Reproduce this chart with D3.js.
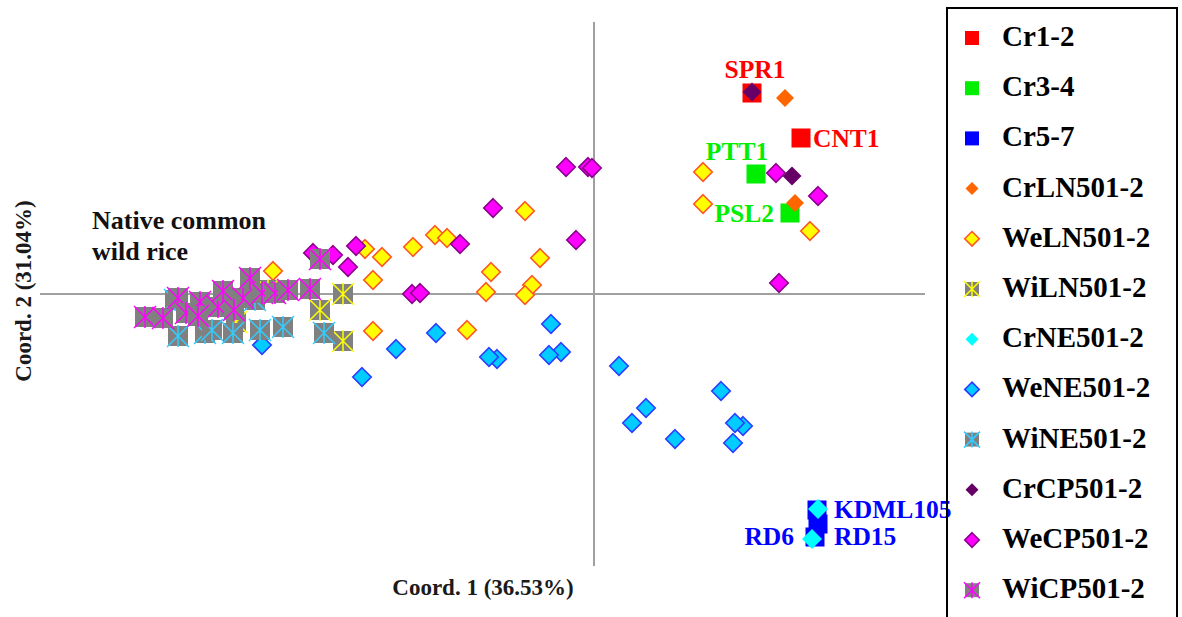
<!DOCTYPE html>
<html>
<head>
<meta charset="utf-8">
<script src="https://cdn.jsdelivr.net/npm/d3@7"></script>
<style>
  body { margin: 0; background: #fff; }
  svg { display: block; }
  text { font-family: "Liberation Serif", "Times New Roman", serif; font-weight: bold; }
</style>
</head>
<body>
<svg id="chart" width="1182" height="617"></svg>
<script>
// PCoA coordinates [Coord. 1, Coord. 2] for each accession group
const groupNames = ["Cr1-2", "Cr3-4", "Cr5-7", "CrLN501-2", "WeLN501-2", "WiLN501-2",
                    "CrNE501-2", "WeNE501-2", "WiNE501-2", "CrCP501-2", "WeCP501-2", "WiCP501-2"];

const cr12 = [[0.395, 0.5025], [0.5175, 0.39]];
const cr34 = [[0.405, 0.30], [0.49, 0.2025]];
const cr57 = [[0.56, -0.575], [0.5575, -0.54], [0.5525, -0.6075]];
const crLN = [[0.4775, 0.49], [0.5025, 0.2275]];
const weLN = [[0.2725, 0.305], [0.2725, 0.225], [0.54, 0.1575], [-0.1725, 0.2075], [-0.3975, 0.1475],
              [-0.3675, 0.14], [-0.4525, 0.1175], [-0.53, 0.0925], [-0.5725, 0.1125], [-0.5525, 0.035],
              [-0.135, 0.09], [-0.2575, 0.055], [-0.155, 0.0225], [-0.27, 0.005], [-0.1725, -0.0025],
              [-0.8025, 0.0575], [-0.5525, -0.0925], [-0.3175, -0.09]];
const wiLN = [[-0.6275, 0.0], [-0.685, -0.04], [-0.6275, -0.1175], [-0.815, 0.01], [-0.895, -0.07]];
const crNE = [[0.56, -0.5375], [0.545, -0.6125]];
const weNE = [[-0.58, -0.2075], [-0.495, -0.1375], [-0.395, -0.0975], [-0.2425, -0.1625], [-0.2625, -0.1575],
              [-0.0825, -0.145], [-0.1075, -0.075], [-0.1125, -0.1525], [0.0625, -0.18], [0.13, -0.285],
              [0.095, -0.3225], [0.2025, -0.3625], [0.3175, -0.2425], [0.3725, -0.33], [0.3525, -0.3225],
              [0.3475, -0.3725], [-0.83, -0.1275]];
const wiNE = [[-1.0475, -0.015], [-0.8475, -0.015], [-1.04, -0.105], [-0.9725, -0.0975], [-0.955, -0.09],
              [-0.9025, -0.0975], [-0.835, -0.09], [-0.7775, -0.0825], [-0.675, -0.0975]];
const crCP = [[0.395, 0.505], [0.495, 0.295]];
const weCP = [[-0.07, 0.3175], [-0.015, 0.3175], [-0.005, 0.315], [-0.2525, 0.215], [-0.045, 0.135],
              [-0.595, 0.12], [-0.335, 0.125], [-0.615, 0.0675], [-0.455, 0.0], [-0.435, 0.0025],
              [-0.7025, 0.1025], [-0.6525, 0.0975], [0.455, 0.3025], [0.56, 0.245], [0.4625, 0.0275]];
const wiCP = [[-1.1225, -0.0575], [-1.0775, -0.06], [-1.04, -0.01], [-1.02, -0.0475], [-0.985, -0.02],
              [-0.94, -0.0325], [-0.9275, 0.0075], [-0.8775, -0.01], [-0.86, 0.04], [-0.83, 0.0025],
              [-0.7975, 0.0025], [-0.765, 0.01], [-0.71, 0.0125], [-0.685, 0.0875],
              [-0.99, -0.055], [-0.9, -0.04]];

// Named cultivars
const cultivarNames = ["SPR1", "CNT1", "PTT1", "PSL2", "KDML105", "RD15", "RD6"];

const axisTitles = ["Coord. 1 (36.53%)", "Coord. 2 (31.04%)"];
const noteLines = ["Native common", "wild rice"];

// Marker styles per group (drawn in legend order)
const groups = [
  { name: groupNames[0],  pts: cr12, shape: "square",  fill: "#ff0000", size: 19, lsize: 14 },
  { name: groupNames[1],  pts: cr34, shape: "square",  fill: "#00ee00", size: 19, lsize: 14 },
  { name: groupNames[2],  pts: cr57, shape: "square",  fill: "#0000ff", size: 19, lsize: 14 },
  { name: groupNames[3],  pts: crLN, shape: "diamond", fill: "#ff6600", size: 18, lsize: 13 },
  { name: groupNames[4],  pts: weLN, shape: "diamond", fill: "#ffff00", stroke: "#ff5522", size: 20, lsize: 16 },
  { name: groupNames[5],  pts: wiLN, shape: "star",    fill: "#808080", stroke: "#ffff00", size: 20, lsize: 14 },
  { name: groupNames[6],  pts: crNE, shape: "diamond", fill: "#00ffff", size: 20, lsize: 13 },
  { name: groupNames[7],  pts: weNE, shape: "diamond", fill: "#00ccff", stroke: "#2a3cff", size: 20, lsize: 16 },
  { name: groupNames[8],  pts: wiNE, shape: "star",    fill: "#808080", stroke: "#33ccff", size: 20, lsize: 14 },
  { name: groupNames[9],  pts: crCP, shape: "diamond", fill: "#660066", size: 19, lsize: 13 },
  { name: groupNames[10], pts: weCP, shape: "diamond", fill: "#ff00ff", stroke: "#8a008a", size: 20, lsize: 16 },
  { name: groupNames[11], pts: wiCP, shape: "star",    fill: "#808080", stroke: "#ff00ff", size: 20, lsize: 14 }
];

// Cultivar labels: which point they name and how they sit next to it
const labelSpecs = [
  { text: cultivarNames[0], g: 0, i: 0, dx: 3,   dy: -15, anchor: "middle", color: "#ff0000" },
  { text: cultivarNames[1], g: 0, i: 1, dx: 12,  dy: 9,   anchor: "start",  color: "#ff0000" },
  { text: cultivarNames[2], g: 1, i: 0, dx: -19, dy: -14, anchor: "middle", color: "#00ee00" },
  { text: cultivarNames[3], g: 1, i: 1, dx: -16, dy: 9,   anchor: "end",    color: "#00ee00" },
  { text: cultivarNames[4], g: 2, i: 1, dx: 17,  dy: 8,   anchor: "start",  color: "#0000ff" },
  { text: cultivarNames[5], g: 2, i: 0, dx: 16,  dy: 21,  anchor: "start",  color: "#0000ff" },
  { text: cultivarNames[6], g: 2, i: 2, dx: -21, dy: 8,   anchor: "end",    color: "#0000ff" }
];

const svg = d3.select("#chart");
svg.append("rect").attr("width", 1182).attr("height", 617).attr("fill", "#fff");

const x = d3.scaleLinear().domain([-1.4, 0.85]).range([34, 934]);
const y = d3.scaleLinear().domain([-0.68, 0.68]).range([566, 22]);

// Cross-hair axes through the origin
svg.append("line")
  .attr("x1", x(-1.385)).attr("x2", x(0.8275))
  .attr("y1", y(0)).attr("y2", y(0))
  .attr("stroke", "#a0a0a0").attr("stroke-width", 2);
svg.append("line")
  .attr("x1", x(0)).attr("x2", x(0))
  .attr("y1", y(0.68)).attr("y2", y(-0.68))
  .attr("stroke", "#a0a0a0").attr("stroke-width", 2);

function drawMarker(sel, g, s) {
  const h = s / 2;
  if (g.shape === "square") {
    sel.append("rect").attr("x", -h).attr("y", -h).attr("width", s).attr("height", s)
      .attr("fill", g.fill);
  } else if (g.shape === "diamond") {
    const r = g.stroke ? h - 0.75 : h;
    sel.append("path").attr("d", `M0,${-r}L${r},0L0,${r}L${-r},0Z`)
      .attr("fill", g.fill)
      .attr("stroke", g.stroke || "none")
      .attr("stroke-width", 1.6)
      .attr("stroke-linejoin", "miter");
  } else {
    sel.append("rect").attr("x", -h).attr("y", -h).attr("width", s).attr("height", s)
      .attr("fill", g.fill);
    const e = h + 1;
    sel.append("path")
      .attr("d", `M${-e},${-e}L${e},${e}M${e},${-e}L${-e},${e}M0,${-e}L0,${e}`)
      .attr("stroke", g.stroke).attr("stroke-width", 1.5).attr("fill", "none");
  }
}

// Points
const plot = svg.append("g");
groups.forEach(g => {
  plot.append("g").selectAll("g").data(g.pts).join("g")
    .attr("transform", d => `translate(${x(d[0])},${y(d[1])})`)
    .each(function() { drawMarker(d3.select(this), g, g.size); });
});

// Cultivar labels
svg.append("g").selectAll("text").data(labelSpecs).join("text")
  .attr("x", d => x(groups[d.g].pts[d.i][0]) + d.dx)
  .attr("y", d => y(groups[d.g].pts[d.i][1]) + d.dy)
  .attr("text-anchor", d => d.anchor)
  .attr("fill", d => d.color)
  .attr("font-size", 25.5)
  .text(d => d.text);

// Annotation for the wild-rice cluster
svg.append("g").selectAll("text").data(noteLines).join("text")
  .attr("x", 92).attr("y", (d, i) => 229 + i * 31)
  .attr("font-size", 26).attr("fill", "#111")
  .text(d => d);

// Axis titles
svg.append("text")
  .attr("x", 483).attr("y", 595)
  .attr("text-anchor", "middle").attr("font-size", 23).attr("fill", "#1a1a1a")
  .text(axisTitles[0]);
svg.append("text")
  .attr("transform", "translate(31,291) rotate(-90)")
  .attr("text-anchor", "middle").attr("font-size", 23).attr("fill", "#1a1a1a")
  .text(axisTitles[1]);

// Legend
const legend = svg.append("g");
legend.append("rect")
  .attr("x", 947).attr("y", 8).attr("width", 230).attr("height", 640)
  .attr("fill", "none").attr("stroke", "#000").attr("stroke-width", 2);
const rows = legend.selectAll("g.row").data(groups).join("g")
  .attr("class", "row")
  .attr("transform", (d, i) => `translate(972,${38 + i * 50.2})`);
rows.each(function(g) { drawMarker(d3.select(this), g, g.lsize); });
rows.append("text")
  .attr("x", 30).attr("y", 8)
  .attr("font-size", 29).attr("fill", "#000")
  .text(d => d.name);
</script>
</body>
</html>
